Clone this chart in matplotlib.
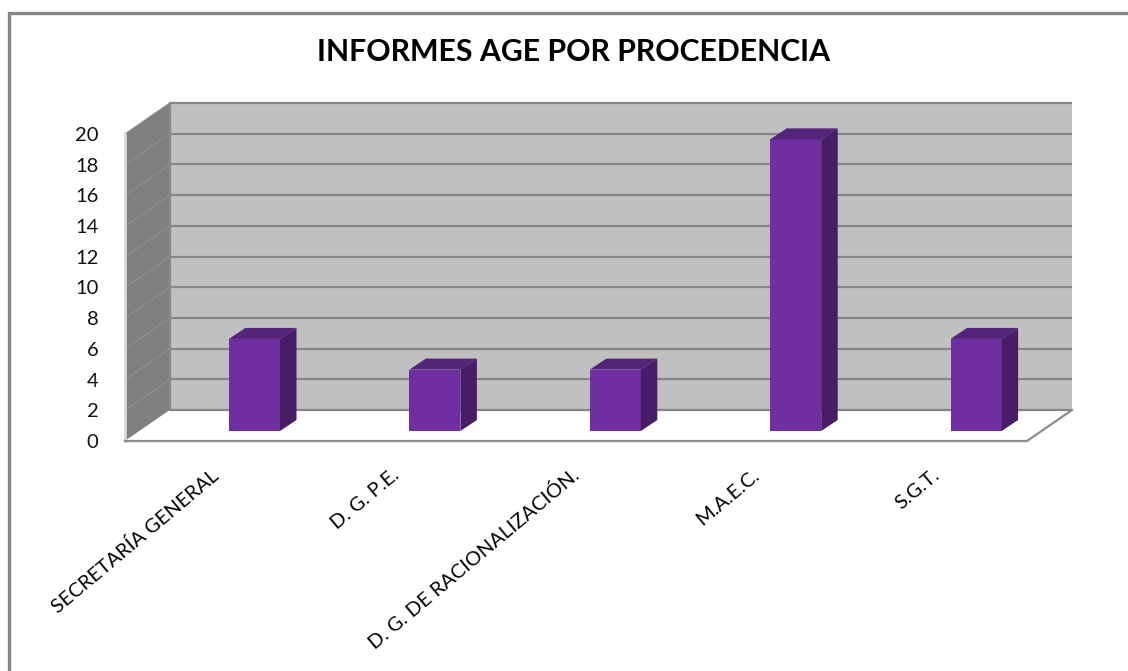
#!/usr/bin/env python3
# -*- coding: utf-8 -*-

import matplotlib
matplotlib.use('Agg')
import matplotlib.pyplot as plt
from matplotlib.patches import Polygon, Rectangle
from matplotlib.transforms import ScaledTranslation

categories = ['SECRETARÍA GENERAL', 'D. G. P.E.', 'D. G. DE RACIONALIZACIÓN.',
              'M.A.E.C.', 'S.G.T.']
values = [6, 4, 4, 19, 6]
yticks = list(range(0, 21, 2))
title = 'INFORMES AGE POR PROCEDENCIA'

W, H = 1128, 671
plt.rcParams['font.family'] = ['Lato', 'DejaVu Sans']

fig = plt.figure(figsize=(W / 100, H / 100), dpi=100, facecolor='white')

# front plane of the fake 3d box, in pixels
left, right, top, bottom = 125, 1027, 134, 441
ax = fig.add_axes([left / W, 1 - bottom / H, (right - left) / W, (bottom - top) / H])
ax.set_facecolor('none')

px_x = 180.4                       # pixels per category
px_y = (bottom - top) / 20         # pixels per unit
x0 = (left - 254.5) / px_x
ax.set_xlim(x0, x0 + (right - left) / px_x)
ax.set_ylim(0, 20)
for s in ax.spines.values():
    s.set_visible(False)

# depth of the box and of the bars, in data units
dx, dy = 45 / px_x, 31 / px_y
bx, by = 16.5 / px_x, 11 / px_y
bar_w = 51 / px_x
floor = 10 / px_y
xa, xb = ax.get_xlim()

# walls
ax.add_patch(Polygon([(xa + dx, dy), (xb + dx, dy), (xb + dx, 20 + dy), (xa + dx, 20 + dy)],
                     fc='#c0c0c0', ec='none', clip_on=False, zorder=1))
ax.add_patch(Polygon([(xa, 0), (xa + dx, dy), (xa + dx, 20 + dy), (xa, 20)],
                     fc='#7f7f7f', ec='none', clip_on=False, zorder=1))
ax.add_patch(Polygon([(xa, 0), (xb, 0), (xb + dx, dy), (xa + dx, dy)],
                     fc='white', ec='none', clip_on=False, zorder=1))

# gridlines
for v in yticks:
    ax.plot([xa + dx, xb + dx], [v + dy, v + dy], color='#868686', lw=1.6,
            clip_on=False, zorder=2, solid_capstyle='butt')
    if v > 0:
        ax.plot([xa, xa + dx], [v, v + dy], color='#8c8c8c', lw=1.0,
                clip_on=False, zorder=2)
ax.plot([xa + dx, xa + dx], [dy, 20 + dy], color='#8a8a8a', lw=1.6, clip_on=False, zorder=2)
ax.plot([xa, xa], [0, 20], color='#d9d9d9', lw=2, clip_on=False, zorder=2)
ax.plot([xa, xb, xb + dx], [0, 0, dy], color='#8c8c8c', lw=1.6, clip_on=False, zorder=2)

# bars
xs = list(range(len(values)))
ax.bar(xs, values, width=bar_w, bottom=floor, color='#702fa0', zorder=5)
for x, v in zip(xs, values):
    l, r = x - bar_w / 2, x + bar_w / 2
    t = floor + v
    ax.add_patch(Polygon([(l, t), (r, t), (r + bx, t + by), (l + bx, t + by)],
                         fc='#54237a', ec='none', zorder=5, clip_on=False))
    ax.add_patch(Polygon([(r, floor), (r + bx, floor + by), (r + bx, t + by), (r, t)],
                         fc='#461d66', ec='none', zorder=5, clip_on=False))

# ticks
ax.set_yticks(yticks)
ax.set_yticklabels([str(v) for v in yticks], fontsize=14.5, color='#111111')
ax.tick_params(axis='y', length=0, pad=19)
ax.set_xticks(xs)
ax.set_xticklabels(categories, rotation=40, ha='right', va='top',
                   rotation_mode='anchor', fontsize=14.4, color='black')
ax.tick_params(axis='x', length=0, pad=18)
shift = ScaledTranslation(-44 / 100, 0, fig.dpi_scale_trans)
for lab in ax.get_xticklabels():
    lab.set_transform(lab.get_transform() + shift)

fig.text(574 / W, 1 - 52 / H, title, ha='center', va='center', fontsize=21.8,
         fontweight='bold', color='black')

# outer chart border
fig.add_artist(Rectangle((8.5 / W, -0.02), 1.2, 1 - 13 / H + 0.02, transform=fig.transFigure,
                         fc='none', ec='#868686', lw=2.4))

fig.savefig('out.png', dpi=100)
